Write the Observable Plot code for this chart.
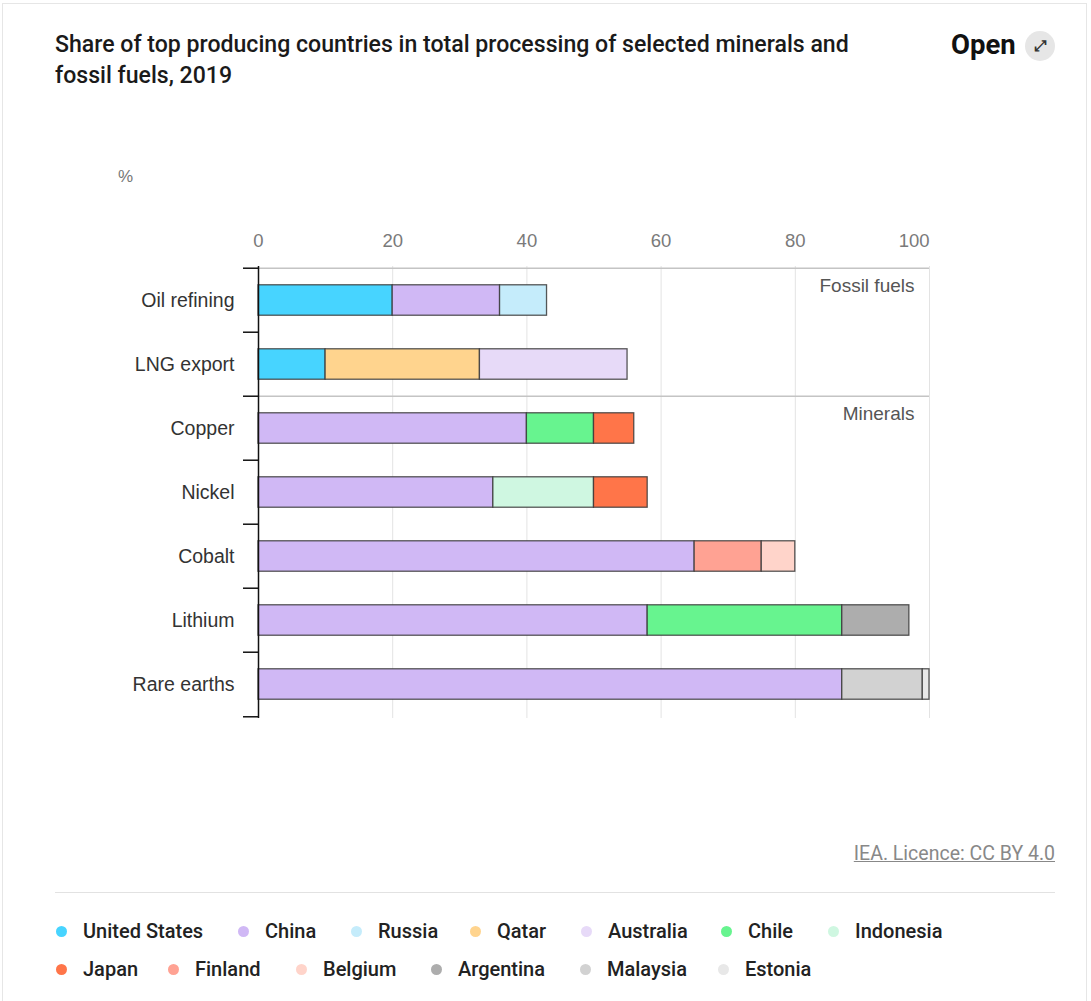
<!DOCTYPE html>
<html>
<head>
<meta charset="utf-8">
<script src="https://cdn.jsdelivr.net/npm/d3@7"></script>
<script src="https://cdn.jsdelivr.net/npm/@observablehq/plot@0.6"></script>
<style>
  html, body { margin: 0; padding: 0; background: #fff; }
  body { width: 1091px; height: 1001px; position: relative; overflow: hidden; font-family: Roboto, "Liberation Sans", sans-serif; }
  #card { position: absolute; left: 2px; top: 3px; width: 1085px; height: 1010px; border: 1px solid #e6e6e6; box-sizing: border-box; }
  #title { position: absolute; left: 55px; top: 29px; width: 810px; font-family: Roboto, sans-serif; font-size: 23.1px; font-weight: 500; line-height: 31px; color: #1a1a1a; }
  #open { position: absolute; left: 951px; top: 29px; font-family: Roboto, sans-serif; font-size: 27.5px; font-weight: 700; color: #111; line-height: 32px; }
  #openicon { position: absolute; left: 1025px; top: 31px; width: 30px; height: 30px; border-radius: 50%; background: #e6e6e6; color: #333; font-size: 15px; line-height: 30px; text-align: center; font-weight: 700; }
  #unit { position: absolute; left: 118px; top: 167px; font-family: "Liberation Sans", Arial, sans-serif; font-size: 17px; color: #777; }
  #chart { position: absolute; left: 0; top: 150px; }
  #caption { position: absolute; right: 36px; top: 842px; font-family: Roboto, sans-serif; font-size: 19.5px; color: #888; text-decoration: underline; }
  #sep { position: absolute; left: 55px; top: 892px; width: 1000px; height: 0; border-top: 1px solid #e2e2e2; }
  #legend { position: absolute; left: 55px; top: 916px; width: 1010px; font-family: Roboto, sans-serif; font-size: 20px; font-weight: 500; color: #222; }
  .item { position: absolute; white-space: nowrap; line-height: 30px; }
  .dot { display: inline-block; width: 11px; height: 11px; border-radius: 50%; margin-right: 16px; vertical-align: 1px; }
</style>
</head>
<body>
<div id="card"></div>
<div id="title">Share of top producing countries in total processing of selected minerals and fossil fuels, 2019</div>
<div id="open">Open</div>
<div id="openicon">⤢</div>
<div id="unit">%</div>
<div id="chart"></div>
<div id="caption">IEA. Licence: CC BY 4.0</div>
<div id="sep"></div>
<div id="legend"></div>
<script>
// ---- data ----
const categories = ["Oil refining", "LNG export", "Copper", "Nickel", "Cobalt", "Lithium", "Rare earths"];
const groupLabels = ["Fossil fuels", "Minerals"];
const groupStarts = ["Oil refining", "Copper"];
const countries = ["United States", "China", "Russia", "Qatar", "Australia", "Chile", "Indonesia",
                   "Japan", "Finland", "Belgium", "Argentina", "Malaysia", "Estonia"];
const countryColors = ["#47d4ff", "#d0b8f5", "#c5ecfb", "#ffd48e", "#e7daf8", "#67f48f", "#cff7e1",
                       "#ff7549", "#ffa293", "#ffd4ca", "#adadad", "#d2d2d2", "#e8e8e8"];
const segCategory = ["Oil refining", "Oil refining", "Oil refining",
                     "LNG export", "LNG export", "LNG export",
                     "Copper", "Copper", "Copper",
                     "Nickel", "Nickel", "Nickel",
                     "Cobalt", "Cobalt", "Cobalt",
                     "Lithium", "Lithium", "Lithium",
                     "Rare earths", "Rare earths", "Rare earths"];
const segCountry = ["United States", "China", "Russia",
                    "United States", "Qatar", "Australia",
                    "China", "Chile", "Japan",
                    "China", "Indonesia", "Japan",
                    "China", "Finland", "Belgium",
                    "China", "Chile", "Argentina",
                    "China", "Malaysia", "Estonia"];
const segValue = [20, 16, 7,
                  10, 23, 22,
                  40, 10, 6,
                  35, 15, 8,
                  65, 10, 5,
                  58, 29, 10,
                  87, 12, 1];
const xTicks = [0, 20, 40, 60, 80, 100];

// ---- build ----
const segments = segValue.map((v, i) => ({category: segCategory[i], country: segCountry[i], value: v}));

const width = 1091, height = 600;
const marginTop = 116, marginBottom = 32, marginLeft = 258, marginRight = 162;
const step = (height - marginTop - marginBottom) / categories.length;
const barH = 31;
const inset = (step - barH) / 2;
const axisFont = '"Liberation Sans", Arial, sans-serif';

const chart = Plot.plot({
  width, height, marginTop, marginBottom, marginLeft, marginRight,
  style: {fontFamily: axisFont, fontSize: "16px", color: "#333", background: "transparent"},
  x: {domain: [0, 100], axis: null, label: null},
  y: {domain: categories, padding: 0, axis: null, label: null},
  color: {domain: countries, range: countryColors},
  marks: [
    Plot.ruleX(xTicks.filter(d => d > 0), {stroke: "#e3e3e3", strokeWidth: 1}),
    Plot.ruleY(groupStarts, {y: d => d, dy: -step / 2, stroke: "#c4c4c4", strokeWidth: 1.5}),
    Plot.axisX(xTicks.filter(d => d < 100), {anchor: "top", label: null, tickSize: 0, tickPadding: 20, fill: "#7a7a7a", fontSize: 18.5}),
    Plot.axisX([100], {anchor: "top", label: null, tickSize: 0, tickPadding: 20, fill: "#7a7a7a", fontSize: 18.5, textAnchor: "end"}),
    Plot.axisY({anchor: "left", label: null, tickSize: 0, tickPadding: 24, fill: "#333", fontSize: 19.5}),
    Plot.axisY(categories, {anchor: "left", label: null, tickSize: 15, text: null, dy: -step / 2, stroke: "#111", strokeWidth: 1.5}),
    Plot.axisY([categories[categories.length - 1]], {anchor: "left", label: null, tickSize: 15, text: null, dy: step / 2, stroke: "#111", strokeWidth: 1.5}),
    Plot.barX(segments, Plot.stackX({
      y: "category", x: "value", fill: "country", order: null,
      insetTop: inset, insetBottom: inset,
      stroke: "#3a3a3a", strokeOpacity: 0.85, strokeWidth: 1.3
    })),
    Plot.ruleX([0], {stroke: "#111", strokeWidth: 1.5}),
    Plot.text(groupLabels, {
      y: (d, i) => groupStarts[i], text: d => d, frameAnchor: "right",
      textAnchor: "end", dx: -15, dy: -15, fill: "#555", fontSize: 19
    })
  ]
});
document.getElementById("chart").appendChild(chart);

// ---- legend ----
const legend = document.getElementById("legend");
const row1 = countries.slice(0, 7), row2 = countries.slice(7);
const x1 = [1, 183, 296, 415, 526, 666, 773];
const x2 = [1, 113, 241, 376, 525, 663];
[[row1, x1, 0], [row2, x2, 38]].forEach(([names, xs, top]) => {
  names.forEach((name, i) => {
    const el = document.createElement("div");
    el.className = "item";
    el.style.left = xs[i] + "px";
    el.style.top = top + "px";
    const dot = document.createElement("span");
    dot.className = "dot";
    dot.style.background = countryColors[countries.indexOf(name)];
    el.appendChild(dot);
    el.appendChild(document.createTextNode(name));
    legend.appendChild(el);
  });
});
</script>
</body>
</html>
